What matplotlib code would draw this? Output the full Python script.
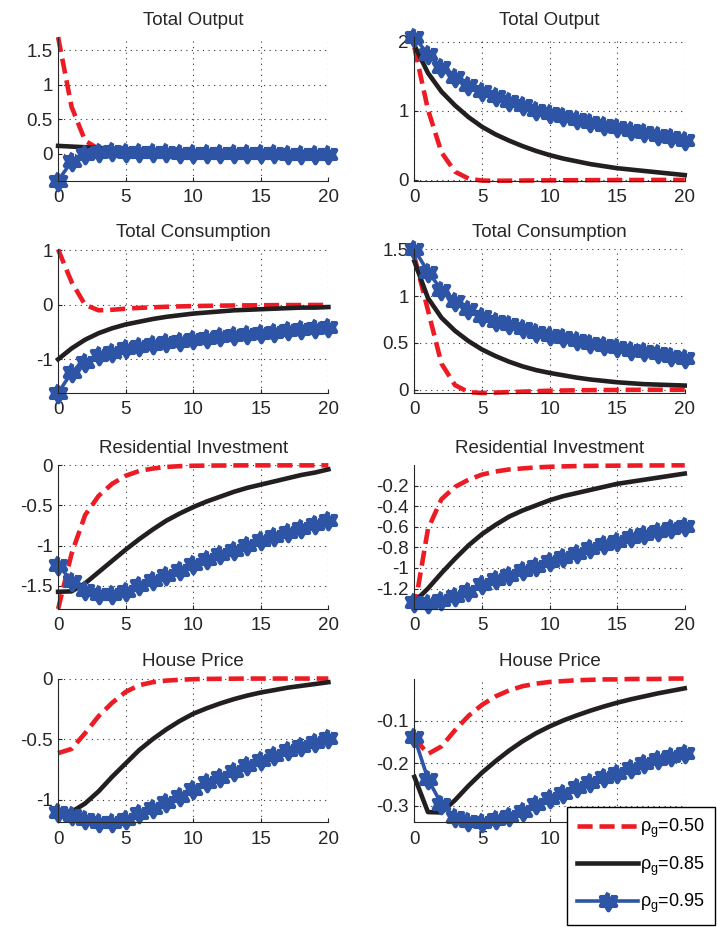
"""Impulse responses for three persistence values rho_g, 4x2 grid with one shared legend."""

import numpy as np
import matplotlib
matplotlib.use("Agg")
import matplotlib.pyplot as plt
from matplotlib.lines import Line2D

plt.rcParams["font.family"] = ["Liberation Sans", "DejaVu Sans"]
plt.rcParams["axes.unicode_minus"] = False
plt.rcParams["mathtext.fontset"] = "custom"
plt.rcParams["mathtext.rm"] = "Liberation Sans"
plt.rcParams["mathtext.it"] = "Liberation Sans:italic"

# ── data: quarters after the shock, one list per series ─────────────────────
periods = list(range(21))
rho_labels = ["0.50", "0.85", "0.95"]
titles = ["Total Output", "Total Consumption", "Residential Investment", "House Price"]

# left column
out_l_050 = [1.69, 0.68, 0.19, 0.07, 0.05, 0.04, 0.035, 0.03, 0.025, 0.02, 0.02,
             0.015, 0.015, 0.01, 0.01, 0.01, 0.01, 0.005, 0.005, 0.005, 0.005]
out_l_085 = [0.115, 0.105, 0.095, 0.085, 0.075, 0.068, 0.06, 0.054, 0.048, 0.043, 0.038,
             0.034, 0.03, 0.027, 0.024, 0.021, 0.019, 0.017, 0.015, 0.013, 0.012]
out_l_095 = [-0.39, -0.11, 0.0, 0.03, 0.035, 0.03, 0.027, 0.024, 0.021, 0.018, 0.015,
             0.013, 0.011, 0.009, 0.008, 0.006, 0.005, 0.004, 0.003, 0.002, 0.001]

con_l_050 = [1.02, 0.42, 0.0, -0.1, -0.09, -0.07, -0.055, -0.045, -0.035, -0.028, -0.022,
             -0.018, -0.014, -0.011, -0.009, -0.007, -0.005, -0.004, -0.003, -0.002, -0.002]
con_l_085 = [-1.0, -0.8, -0.64, -0.52, -0.43, -0.36, -0.31, -0.26, -0.22, -0.19, -0.16,
             -0.14, -0.12, -0.1, -0.09, -0.08, -0.07, -0.06, -0.05, -0.05, -0.04]
con_l_095 = [-1.62, -1.24, -1.05, -0.93, -0.86, -0.8, -0.76, -0.72, -0.69, -0.66, -0.63,
             -0.6, -0.58, -0.56, -0.53, -0.51, -0.49, -0.47, -0.45, -0.43, -0.41]

inv_l_050 = [-1.79, -1.1, -0.62, -0.38, -0.23, -0.13, -0.07, -0.04, -0.02, -0.01, -0.005,
             -0.003, -0.002, -0.001, 0.0, 0.0, 0.0, 0.0, 0.0, 0.0, 0.0]
inv_l_085 = [-1.575, -1.57, -1.47, -1.33, -1.19, -1.05, -0.92, -0.8, -0.69, -0.6, -0.52,
             -0.45, -0.39, -0.33, -0.28, -0.24, -0.2, -0.16, -0.12, -0.09, -0.05]
inv_l_095 = [-1.24, -1.44, -1.55, -1.6, -1.6, -1.56, -1.49, -1.43, -1.37, -1.3, -1.23,
             -1.17, -1.11, -1.05, -0.99, -0.93, -0.88, -0.83, -0.78, -0.73, -0.68]

hp_l_050 = [-0.615, -0.58, -0.45, -0.31, -0.2, -0.11, -0.055, -0.03, -0.017, -0.01, -0.005,
            -0.003, -0.002, -0.001, 0.0, 0.0, 0.0, 0.0, 0.0, 0.0, 0.0]
hp_l_085 = [-1.11, -1.1, -1.03, -0.93, -0.81, -0.7, -0.59, -0.5, -0.42, -0.35, -0.29,
            -0.245, -0.205, -0.17, -0.14, -0.115, -0.095, -0.075, -0.06, -0.045, -0.03]
hp_l_095 = [-1.1, -1.125, -1.16, -1.185, -1.18, -1.155, -1.11, -1.07, -1.02, -0.97, -0.91,
            -0.855, -0.81, -0.76, -0.71, -0.67, -0.63, -0.59, -0.555, -0.525, -0.49]

# right column
out_r_050 = [1.92, 1.02, 0.4, 0.12, 0.02, -0.01, -0.012, -0.011, -0.009, -0.007, -0.006,
             -0.005, -0.004, -0.003, -0.002, -0.002, -0.001, -0.001, 0.0, 0.0, 0.0]
out_r_085 = [1.95, 1.55, 1.28, 1.08, 0.91, 0.77, 0.66, 0.57, 0.49, 0.42, 0.36,
             0.31, 0.27, 0.23, 0.2, 0.17, 0.15, 0.13, 0.11, 0.09, 0.07]
out_r_095 = [2.07, 1.82, 1.63, 1.49, 1.38, 1.29, 1.21, 1.14, 1.08, 1.02, 0.97,
             0.92, 0.88, 0.84, 0.8, 0.76, 0.72, 0.69, 0.65, 0.62, 0.58]

con_r_050 = [1.42, 0.85, 0.28, 0.05, -0.025, -0.035, -0.03, -0.025, -0.02, -0.015, -0.01,
             -0.008, -0.006, -0.004, -0.003, -0.002, -0.001, 0.0, 0.0, 0.0, 0.0]
con_r_085 = [1.37, 0.98, 0.77, 0.63, 0.52, 0.43, 0.36, 0.3, 0.25, 0.21, 0.18,
             0.155, 0.13, 0.11, 0.095, 0.08, 0.07, 0.06, 0.055, 0.05, 0.045]
con_r_095 = [1.5, 1.26, 1.07, 0.95, 0.86, 0.79, 0.74, 0.7, 0.66, 0.62, 0.58,
             0.56, 0.53, 0.5, 0.48, 0.46, 0.43, 0.41, 0.39, 0.36, 0.34]

inv_r_050 = [-1.4, -0.62, -0.33, -0.21, -0.14, -0.09, -0.06, -0.04, -0.03, -0.02, -0.014,
             -0.01, -0.007, -0.005, -0.004, -0.003, -0.002, -0.001, -0.001, 0.0, 0.0]
inv_r_085 = [-1.33, -1.2, -1.05, -0.91, -0.78, -0.67, -0.58, -0.5, -0.44, -0.39, -0.34,
             -0.3, -0.27, -0.24, -0.21, -0.18, -0.16, -0.14, -0.12, -0.1, -0.08]
inv_r_095 = [-1.33, -1.34, -1.31, -1.27, -1.22, -1.16, -1.11, -1.07, -1.02, -0.98, -0.93,
             -0.89, -0.85, -0.81, -0.77, -0.74, -0.7, -0.67, -0.64, -0.61, -0.59]

hp_r_050 = [-0.14, -0.178, -0.16, -0.122, -0.088, -0.062, -0.042, -0.028, -0.018, -0.012, -0.008,
            -0.006, -0.004, -0.003, -0.002, -0.002, -0.001, -0.001, -0.001, 0.0, 0.0]
hp_r_085 = [-0.232, -0.315, -0.316, -0.287, -0.253, -0.222, -0.195, -0.17, -0.148, -0.129, -0.113,
            -0.099, -0.087, -0.076, -0.066, -0.057, -0.049, -0.042, -0.035, -0.029, -0.023]
hp_r_095 = [-0.139, -0.237, -0.296, -0.327, -0.337, -0.339, -0.331, -0.324, -0.312, -0.296, -0.282,
            -0.269, -0.257, -0.243, -0.232, -0.222, -0.21, -0.2, -0.19, -0.182, -0.175]

xticks = [0, 5, 10, 15, 20]
yticks_left = [[0, 0.5, 1, 1.5], [-1, 0, 1], [-1.5, -1, -0.5, 0], [-1, -0.5, 0]]
yticks_right = [[0, 1, 2], [0, 0.5, 1, 1.5], [-1.2, -1, -0.8, -0.6, -0.4, -0.2], [-0.3, -0.2, -0.1]]

left_series = [(out_l_050, out_l_085, out_l_095), (con_l_050, con_l_085, con_l_095),
               (inv_l_050, inv_l_085, inv_l_095), (hp_l_050, hp_l_085, hp_l_095)]
right_series = [(out_r_050, out_r_085, out_r_095), (con_r_050, con_r_085, con_r_095),
                (inv_r_050, inv_r_085, inv_r_095), (hp_r_050, hp_r_085, hp_r_095)]

# ── style ───────────────────────────────────────────────────────────────────
RED = "#ED1C24"
BLACK = "#231F20"
BLUE = "#2E55A5"
AX_COLOR = "#262626"
FS = 13.5

# six-pointed star (MATLAB-like hexagram)
_ang = np.pi / 2 + np.arange(12) * np.pi / 6
_rad = np.where(np.arange(12) % 2 == 0, 1.0, 1 / np.sqrt(3))
HEXAGRAM = np.column_stack([_rad * np.cos(_ang), _rad * np.sin(_ang)])

STYLES = [
    dict(color=RED, lw=3.3, linestyle=(0, (3.3, 1.5)), dash_capstyle="butt"),
    dict(color=BLACK, lw=3.3, linestyle="-"),
    dict(color=BLUE, lw=2.6, linestyle="-", marker=HEXAGRAM, markersize=12.5,
         markerfacecolor=BLUE, markeredgecolor=BLUE, markeredgewidth=3.2),
]

COL_X = [0.081, 0.578]
COL_W = 0.377
ROW_BOTTOM = [0.805, 0.576, 0.343, 0.113]
ROW_H = 0.155


def fmt(v):
    return f"{v:g}"


def draw_panel(ax, title, series, yticks):
    for ys, st in zip(series, STYLES):
        ax.plot(periods, ys, clip_on=False, **st)
    lo = min(min(s) for s in series)
    hi = max(max(s) for s in series)
    ax.set_xlim(0, 20)
    ax.set_ylim(lo, hi)
    ax.set_xticks(xticks)
    ax.set_xticklabels([fmt(v) for v in xticks])
    ax.set_yticks(yticks)
    ax.set_yticklabels([fmt(v) for v in yticks])
    ax.set_title(title, fontsize=FS, color=AX_COLOR, pad=9)
    ax.grid(True, linestyle=(0, (1, 4)), linewidth=0.8, color="#333333")
    for side in ("top", "right"):
        ax.spines[side].set_visible(False)
    for side in ("left", "bottom"):
        ax.spines[side].set_color(AX_COLOR)
        ax.spines[side].set_linewidth(0.8)
    ax.tick_params(direction="in", length=3, width=0.8, colors=AX_COLOR,
                   labelsize=FS, pad=4)
    ax.tick_params(axis="x", pad=6)


def main():
    fig = plt.figure(figsize=(7.17, 9.27), dpi=100)

    for row in range(4):
        for col, (series_set, ticks_set) in enumerate(
                [(left_series, yticks_left), (right_series, yticks_right)]):
            ax = fig.add_axes([COL_X[col], ROW_BOTTOM[row], COL_W, ROW_H])
            draw_panel(ax, titles[row], series_set[row], ticks_set[row])

    handles = [Line2D([], [], **st) for st in STYLES]
    labels = [r"$\mathregular{\rho_g}$=" + r for r in rho_labels]
    leg = fig.legend(handles, labels, loc="lower right",
                     bbox_to_anchor=(0.997, 0.002), fontsize=13,
                     handlelength=3.4, handletextpad=0.1, labelspacing=0.8,
                     borderpad=0.55, borderaxespad=0.0, numpoints=1,
                     fancybox=False, framealpha=1.0, edgecolor="black")
    leg.get_frame().set_linewidth(1.0)
    leg.set_zorder(10)

    fig.savefig("out.png", dpi=100)
    plt.close(fig)


if __name__ == "__main__":
    main()
